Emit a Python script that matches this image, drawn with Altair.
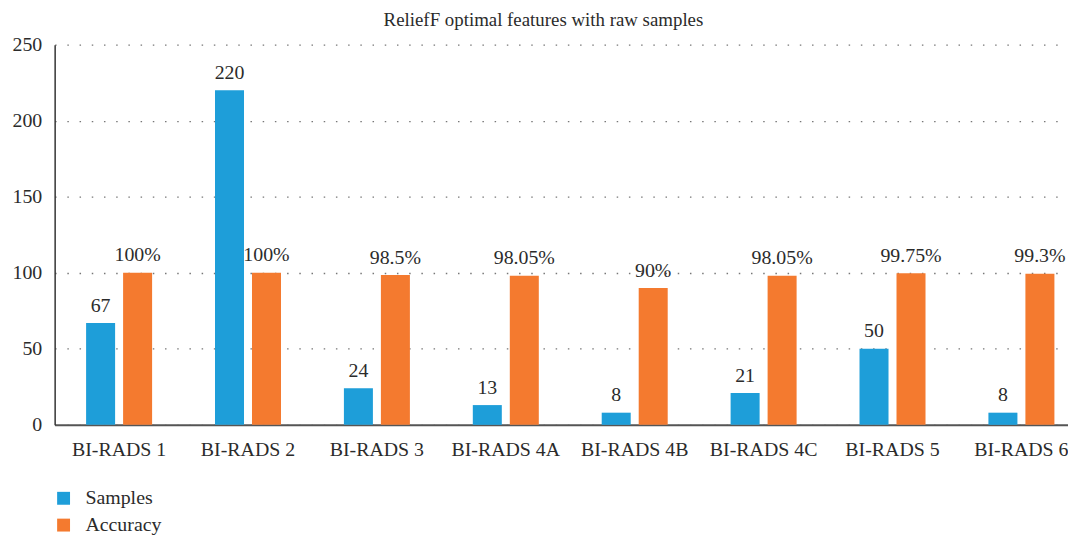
import altair as alt
import pandas as pd

categories = ["BI-RADS 1", "BI-RADS 2", "BI-RADS 3", "BI-RADS 4A",
              "BI-RADS 4B", "BI-RADS 4C", "BI-RADS 5", "BI-RADS 6"]
samples = [67, 220, 24, 13, 8, 21, 50, 8]
accuracy = [100, 100, 98.5, 98.05, 90, 98.05, 99.75, 99.3]
sample_labels = ["67", "220", "24", "13", "8", "21", "50", "8"]
accuracy_labels = ["100%", "100%", "98.5%", "98.05%", "90%", "98.05%", "99.75%", "99.3%"]
series = ["Samples", "Accuracy"]
colors = ["#1E9ED9", "#F47A2F"]

rows = []
for i, c in enumerate(categories):
    rows.append({"category": c, "series": "Samples", "value": samples[i], "label": sample_labels[i]})
    rows.append({"category": c, "series": "Accuracy", "value": accuracy[i], "label": accuracy_labels[i]})
df = pd.DataFrame(rows)

FONT = "Liberation Serif"

x = alt.X("category:N", sort=categories, title=None,
          scale=alt.Scale(range=[0, 1039], paddingInner=0.488, paddingOuter=0.244),
          axis=alt.Axis(labelAngle=0, ticks=False, labelPadding=15, labelFontSize=20,
                        labelFont=FONT, labelColor="#2b2b2b", domainColor="#555",
                        domainWidth=2, grid=False))
xo = alt.XOffset("series:N", sort=series,
                 scale=alt.Scale(paddingInner=0.216, paddingOuter=0))
y = alt.Y("value:Q", title=None,
          scale=alt.Scale(domain=[0, 250], nice=False),
          axis=alt.Axis(values=[0, 50, 100, 150, 200, 250], ticks=False, labelPadding=13,
                        labelFontSize=20, labelFont=FONT, labelColor="#2b2b2b",
                        domainColor="#333", domainWidth=1.5,
                        grid=True, gridColor="#777", gridDash=[1.5, 10.8], gridWidth=1.3))

bars = alt.Chart(df).mark_bar().encode(
    x=x, xOffset=xo, y=y,
    color=alt.Color("series:N", sort=series,
                    scale=alt.Scale(domain=series, range=colors),
                    legend=alt.Legend(title=None, orient="none", legendX=-1, legendY=447,
                                      direction="vertical", symbolType="square",
                                      symbolSize=169, symbolStrokeWidth=0,
                                      labelFont=FONT, labelFontSize=20, labelColor="#2b2b2b",
                                      labelOffset=12, rowPadding=7, padding=0)),
)

texts = alt.Chart(df).mark_text(dy=-11.5, baseline="alphabetic", font=FONT, fontSize=20,
                                color="#2b2b2b").encode(
    x=alt.X("category:N", sort=categories), xOffset=alt.XOffset("series:N", sort=series),
    y=alt.Y("value:Q"), text="label:N")

chart = alt.layer(bars, texts).properties(
    width=1021, height=383,
    autosize=alt.AutoSizeParams(type="none"),
    padding={"left": 47, "top": 35, "right": 0, "bottom": 111},
    title=alt.TitleParams("ReliefF optimal features with raw samples", font=FONT,
                          fontSize=19, fontWeight="normal", color="#2b2b2b", offset=5, dx=-18),
).configure_view(stroke=None)

chart.save("out.html", embed_options={"renderer": "svg", "actions": False})
